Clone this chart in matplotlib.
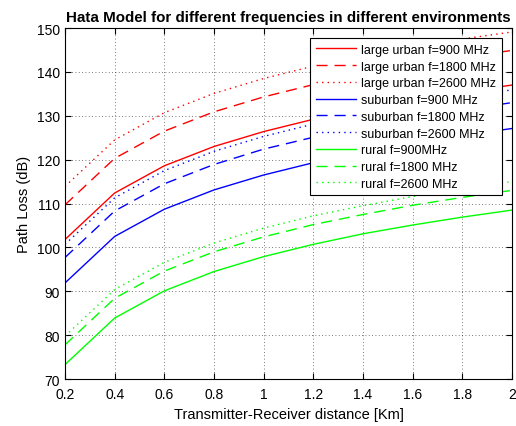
import matplotlib

matplotlib.use("Agg")
import matplotlib.pyplot as plt

# distance (km)
distance_km = [0.2, 0.4, 0.6, 0.8, 1.0, 1.2, 1.4, 1.6, 1.8, 2.0]

# path loss (dB)
urban_900 = [101.8, 112.4, 118.6, 123.0, 126.4, 129.2, 131.6, 133.6, 135.4, 137.0]
urban_1800 = [109.7, 120.3, 126.5, 130.9, 134.3, 137.1, 139.4, 141.5, 143.3, 144.9]
urban_2600 = [113.9, 124.5, 130.7, 135.1, 138.5, 141.3, 143.6, 145.7, 147.5, 149.1]
suburban_900 = [91.9, 102.5, 108.7, 113.1, 116.5, 119.3, 121.6, 123.7, 125.5, 127.1]
suburban_1800 = [97.7, 108.3, 114.5, 118.9, 122.4, 125.1, 127.5, 129.5, 131.3, 133.0]
suburban_2600 = [100.7, 111.3, 117.5, 121.9, 125.3, 128.1, 130.5, 132.5, 134.3, 135.9]
rural_900 = [73.3, 83.9, 90.1, 94.5, 97.9, 100.7, 103.1, 105.1, 106.9, 108.5]
rural_1800 = [77.8, 88.4, 94.6, 99.0, 102.4, 105.2, 107.5, 109.6, 111.4, 113.0]
rural_2600 = [79.8, 90.4, 96.6, 101.0, 104.4, 107.2, 109.5, 111.6, 113.4, 115.0]

SERIES = [
    (urban_900, "large urban f=900 MHz", "#ff0000", "-"),
    (urban_1800, "large urban f=1800 MHz", "#ff0000", (0, (8, 5))),
    (urban_2600, "large urban f=2600 MHz", "#ff0000", (0, (1, 3))),
    (suburban_900, "suburban f=900 MHz", "#0000ff", "-"),
    (suburban_1800, "suburban f=1800 MHz", "#0000ff", (0, (8, 5))),
    (suburban_2600, "suburban f=2600 MHz", "#0000ff", (0, (1, 3))),
    (rural_900, "rural f=900MHz", "#00ff00", "-"),
    (rural_1800, "rural f=1800 MHz", "#00ff00", (0, (8, 5))),
    (rural_2600, "rural f=2600 MHz", "#00ff00", (0, (1, 3))),
]

plt.rcParams["font.family"] = ["Liberation Sans", "DejaVu Sans"]

fig = plt.figure(figsize=(5.16, 4.27), dpi=100)
ax = fig.add_axes([0.126, 0.110, 0.866, 0.822])

for vals, label, color, ls in SERIES:
    ax.plot(distance_km, vals, color=color, linestyle=ls, linewidth=1.0, label=label)

ax.set_xlim(0.2, 2.0)
ax.set_ylim(70, 150)
ax.set_xticks([0.2, 0.4, 0.6, 0.8, 1.0, 1.2, 1.4, 1.6, 1.8, 2.0])
ax.set_xticklabels(["0.2", "0.4", "0.6", "0.8", "1", "1.2", "1.4", "1.6", "1.8", "2"])
ax.set_yticks(range(70, 151, 10))
ax.tick_params(direction="in", labelsize=10, length=4, top=True, right=True)
ax.tick_params(axis="x", pad=6)
ax.grid(True, color="black", linestyle=(0, (1, 3)), linewidth=0.6, alpha=0.7)

ax.set_xlabel("Transmitter-Receiver distance [Km]", fontsize=10.5, labelpad=4)
ax.set_ylabel("Path Loss (dB)", fontsize=10.5)
ax.set_title("Hata Model for different frequencies in different environments",
             fontsize=10.9, fontweight="bold", pad=5)

leg = ax.legend(loc="upper right", bbox_to_anchor=(0.977, 0.971), fontsize=9,
                frameon=True, fancybox=False, framealpha=1, edgecolor="black",
                handlelength=3.2, labelspacing=0.38, borderpad=0.45, handletextpad=0.4,
                borderaxespad=0)
leg.get_frame().set_linewidth(0.8)

fig.savefig("out.png", dpi=100, facecolor="white")
